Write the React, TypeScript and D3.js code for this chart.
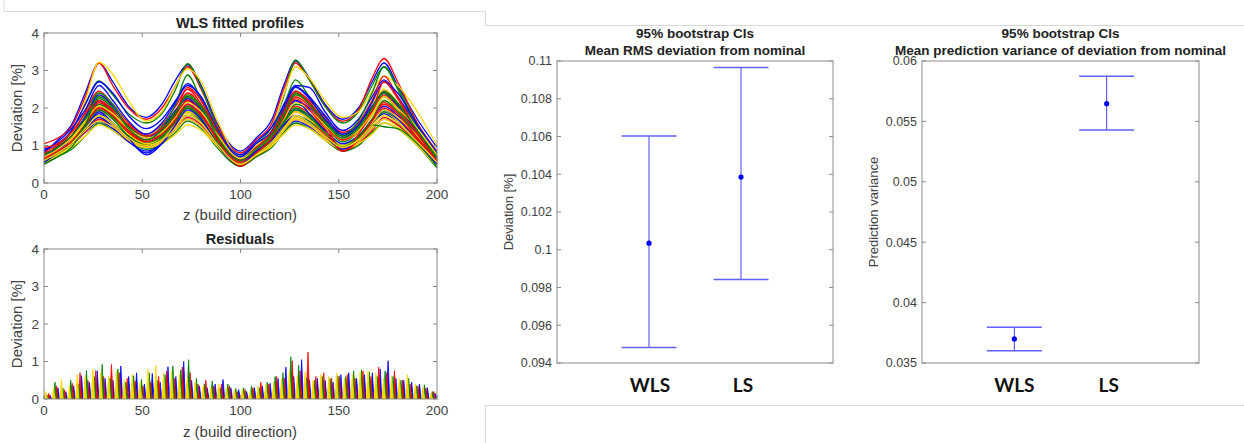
import React from "react";
import * as d3 from "d3";

// ---- fitted profiles (values at these z knots) ----
const zKnots = [0, 7, 14, 21, 28, 35, 43, 52, 60, 67, 73, 80, 88, 100, 108, 116, 122, 128, 135, 143, 152, 160, 167, 173, 180, 190, 200];

const profiles = [
  [0.80, 1.15, 1.55, 2.40, 3.20, 2.70, 2.05, 1.75, 2.10, 2.75, 3.15, 2.60, 1.60, 0.85, 1.20, 1.70, 2.60, 3.25, 2.80, 2.10, 1.70, 2.00, 2.70, 3.20, 2.60, 1.70, 0.95],
  [1.05, 1.20, 1.50, 2.30, 3.20, 2.60, 2.00, 1.70, 2.00, 2.60, 3.10, 2.50, 1.55, 0.80, 1.15, 1.60, 2.50, 3.20, 2.75, 2.05, 1.65, 1.95, 2.80, 3.32, 2.70, 1.60, 0.85],
  [0.70, 1.00, 1.35, 2.10, 2.72, 2.35, 1.85, 1.60, 1.85, 2.50, 3.18, 2.55, 1.50, 0.75, 1.05, 1.50, 2.30, 3.28, 2.75, 2.05, 1.60, 1.90, 2.60, 3.10, 2.55, 1.55, 0.80],
  [0.65, 0.95, 1.30, 2.20, 3.22, 2.90, 2.20, 1.65, 1.90, 2.60, 3.05, 2.70, 1.70, 0.70, 1.00, 1.45, 2.35, 3.10, 2.80, 2.20, 1.75, 1.90, 2.45, 2.85, 2.60, 1.90, 1.00],
  [0.90, 1.05, 1.40, 2.10, 2.70, 2.40, 1.80, 1.45, 1.70, 2.20, 2.65, 2.25, 1.40, 0.70, 1.05, 1.40, 2.10, 2.60, 2.55, 1.90, 1.40, 1.70, 2.30, 2.75, 2.30, 1.50, 0.75],
  [0.75, 0.95, 1.25, 1.90, 2.45, 2.10, 1.60, 1.30, 1.55, 2.05, 2.50, 2.10, 1.30, 0.65, 0.95, 1.30, 1.95, 2.45, 2.20, 1.75, 1.35, 1.60, 2.20, 2.85, 2.30, 1.40, 0.70],
  [0.55, 0.85, 1.20, 1.80, 2.40, 2.10, 1.55, 1.25, 1.50, 2.10, 2.88, 2.20, 1.35, 0.60, 0.95, 1.35, 2.05, 2.75, 2.30, 1.70, 1.30, 1.65, 2.40, 3.10, 2.50, 1.45, 0.65],
  [0.60, 0.85, 1.15, 1.75, 2.30, 2.05, 1.55, 1.25, 1.45, 1.95, 2.35, 2.00, 1.25, 0.55, 0.90, 1.25, 1.90, 2.35, 2.10, 1.65, 1.25, 1.55, 2.10, 2.50, 2.15, 1.45, 0.75],
  [0.65, 0.90, 1.20, 1.70, 2.20, 1.90, 1.40, 1.10, 1.35, 1.85, 2.30, 1.95, 1.20, 0.60, 0.90, 1.25, 1.85, 2.20, 2.00, 1.55, 1.20, 1.50, 2.00, 2.40, 2.05, 1.30, 0.60],
  [0.80, 0.95, 1.20, 1.65, 2.15, 1.85, 1.45, 1.15, 1.40, 1.90, 2.40, 2.05, 1.25, 0.55, 0.85, 1.20, 1.80, 2.40, 2.10, 1.60, 1.15, 1.40, 1.95, 2.45, 2.10, 1.35, 0.65],
  [0.50, 0.75, 1.05, 1.60, 2.10, 1.85, 1.40, 1.10, 1.30, 1.75, 2.20, 1.90, 1.20, 0.50, 0.80, 1.15, 1.70, 2.10, 1.95, 1.50, 1.10, 1.35, 1.85, 2.30, 1.95, 1.25, 0.55],
  [0.70, 0.90, 1.15, 1.60, 2.00, 1.80, 1.40, 1.15, 1.35, 1.70, 2.05, 1.85, 1.25, 0.60, 0.85, 1.20, 1.65, 2.00, 1.85, 1.50, 1.15, 1.35, 1.80, 2.20, 1.95, 1.40, 0.70],
  [0.60, 0.85, 1.10, 1.50, 1.85, 1.55, 1.15, 0.80, 1.10, 1.60, 2.10, 1.80, 1.10, 0.50, 0.80, 1.10, 1.60, 1.95, 1.80, 1.40, 1.00, 1.25, 1.70, 2.05, 1.80, 1.20, 0.55],
  [0.85, 1.00, 1.25, 1.65, 2.05, 1.75, 1.35, 1.05, 1.25, 1.65, 2.00, 1.75, 1.15, 0.50, 0.80, 1.15, 1.70, 2.05, 1.85, 1.40, 0.90, 1.20, 1.70, 2.10, 1.85, 1.20, 0.50],
  [0.60, 0.80, 1.05, 1.45, 1.80, 1.60, 1.25, 1.05, 1.20, 1.55, 1.90, 1.65, 1.10, 0.55, 0.80, 1.05, 1.50, 1.80, 1.65, 1.30, 0.95, 1.15, 1.55, 1.90, 1.65, 1.10, 0.50],
  [0.55, 0.80, 1.05, 1.40, 1.75, 1.55, 1.20, 1.00, 1.15, 1.50, 1.85, 1.60, 1.05, 0.50, 0.75, 1.05, 1.45, 1.75, 1.60, 1.25, 0.95, 1.15, 1.50, 1.85, 1.65, 1.15, 0.55],
  [0.75, 0.90, 1.10, 1.35, 1.65, 1.45, 1.15, 0.95, 1.10, 1.40, 1.70, 1.50, 1.00, 0.55, 0.80, 1.05, 1.40, 1.65, 1.50, 1.20, 0.90, 1.10, 1.45, 1.70, 1.55, 1.05, 0.50],
  [0.55, 0.75, 1.00, 1.35, 1.70, 1.50, 1.15, 0.95, 1.10, 1.45, 1.75, 1.55, 1.00, 0.45, 0.70, 1.00, 1.40, 1.70, 1.55, 1.20, 0.85, 1.05, 1.40, 1.75, 1.55, 1.05, 0.45],
  [0.50, 0.70, 0.90, 1.25, 1.60, 1.40, 1.10, 0.90, 1.05, 1.35, 1.65, 1.45, 0.95, 0.45, 0.70, 0.95, 1.35, 1.60, 1.45, 1.15, 0.85, 1.00, 1.35, 1.60, 1.45, 1.00, 0.40],
  [0.60, 0.75, 0.95, 1.25, 1.55, 1.40, 1.10, 0.95, 1.05, 1.30, 1.55, 1.40, 1.00, 0.50, 0.75, 1.00, 1.30, 1.55, 1.45, 1.15, 0.90, 1.05, 1.30, 1.60, 1.45, 1.00, 0.45],
  [0.65, 0.80, 1.00, 1.40, 1.75, 1.50, 1.10, 0.85, 1.05, 1.45, 1.80, 1.60, 1.05, 0.55, 0.80, 1.10, 1.55, 2.20, 1.85, 1.40, 1.05, 1.25, 1.60, 1.95, 1.70, 1.15, 0.60],
  [0.70, 0.85, 1.10, 1.55, 1.95, 1.70, 1.30, 1.00, 1.20, 1.60, 2.25, 1.90, 1.20, 0.60, 0.85, 1.15, 1.55, 1.90, 1.70, 1.30, 0.95, 1.20, 1.60, 2.00, 1.75, 1.15, 0.55],
  [0.65, 0.80, 1.05, 1.55, 2.00, 1.75, 1.30, 1.05, 1.25, 1.65, 2.05, 1.75, 1.15, 0.55, 0.85, 1.20, 1.65, 2.00, 1.80, 1.35, 1.00, 1.25, 1.70, 2.20, 1.90, 1.25, 0.60],
  [0.65, 0.85, 1.10, 1.50, 1.90, 1.70, 1.30, 1.05, 1.20, 1.55, 1.90, 1.70, 1.15, 0.55, 0.80, 1.10, 1.55, 1.90, 1.70, 1.35, 1.00, 1.20, 1.60, 1.95, 1.75, 1.25, 0.65],
  [0.70, 0.95, 1.25, 1.75, 2.35, 2.05, 1.50, 1.20, 1.45, 1.95, 2.25, 1.85, 1.20, 0.60, 0.90, 1.30, 1.95, 2.55, 2.25, 1.70, 1.25, 1.55, 2.05, 2.40, 2.05, 1.35, 0.70],
  [0.60, 0.80, 1.10, 1.55, 2.15, 1.90, 1.40, 1.15, 1.35, 1.80, 2.20, 1.85, 1.15, 0.55, 0.85, 1.20, 1.80, 2.30, 2.05, 1.55, 1.15, 1.40, 1.90, 2.35, 2.00, 1.30, 0.60],
  [0.75, 0.95, 1.25, 1.70, 2.25, 2.00, 1.50, 1.25, 1.45, 1.90, 2.30, 2.00, 1.30, 0.65, 0.95, 1.30, 1.85, 2.35, 2.15, 1.65, 1.25, 1.50, 2.00, 2.45, 2.15, 1.40, 0.70],
  [0.55, 0.75, 1.00, 1.40, 1.65, 1.50, 1.15, 0.95, 1.10, 1.40, 1.70, 1.50, 1.00, 0.50, 0.75, 1.00, 1.40, 1.70, 1.55, 1.20, 0.90, 1.10, 1.45, 1.70, 1.50, 1.05, 0.50],
  [0.85, 1.10, 1.45, 1.95, 2.60, 2.20, 1.65, 1.30, 1.60, 2.15, 2.60, 2.30, 1.45, 0.75, 1.10, 1.50, 2.05, 2.57, 2.30, 1.80, 1.30, 1.55, 2.15, 2.70, 2.40, 1.55, 0.80],
  [0.95, 1.05, 1.35, 1.85, 2.20, 1.95, 1.55, 1.25, 1.45, 1.85, 2.55, 2.20, 1.40, 0.60, 0.95, 1.35, 1.90, 2.45, 2.15, 1.60, 0.85, 1.30, 1.90, 2.70, 2.25, 1.35, 0.60],
  [0.50, 0.70, 0.95, 1.50, 1.95, 1.70, 1.25, 1.00, 1.20, 1.65, 2.00, 1.70, 1.10, 0.45, 0.80, 1.15, 1.60, 1.95, 1.75, 1.35, 0.95, 1.20, 1.55, 1.50, 1.45, 1.05, 0.45],
  [0.70, 0.90, 1.20, 1.65, 2.05, 1.85, 1.45, 1.20, 1.35, 1.75, 2.15, 1.90, 1.30, 0.65, 0.90, 1.25, 1.70, 2.15, 1.95, 1.55, 1.20, 1.40, 1.85, 2.30, 2.00, 1.45, 0.75],
  [0.55, 0.80, 1.05, 1.45, 1.90, 1.60, 1.20, 0.75, 1.05, 1.55, 1.95, 1.70, 1.05, 0.50, 0.85, 1.15, 1.55, 1.80, 1.60, 1.25, 0.90, 1.15, 1.55, 1.85, 1.60, 1.10, 0.50],
  [0.65, 0.85, 1.10, 1.55, 2.00, 1.80, 1.35, 1.10, 1.30, 1.70, 2.10, 1.80, 1.20, 0.45, 0.80, 1.20, 1.75, 2.25, 1.95, 1.45, 0.85, 1.15, 1.65, 2.15, 1.85, 1.20, 0.55],
  [0.60, 0.80, 1.05, 1.55, 2.30, 2.00, 1.45, 1.15, 1.40, 1.85, 2.35, 2.05, 1.25, 0.60, 0.90, 1.25, 1.80, 2.40, 2.10, 1.60, 1.20, 1.45, 2.00, 2.40, 2.10, 1.40, 0.65],
  [0.60, 0.80, 1.05, 1.45, 1.80, 1.60, 1.20, 1.00, 1.15, 1.45, 1.80, 1.60, 1.05, 0.50, 0.75, 1.05, 1.45, 1.80, 1.60, 1.25, 0.95, 1.15, 1.55, 1.80, 1.60, 1.10, 0.55],
];

const lineColors = ["#0000ff", "#ff0000", "#008000", "#ffd700"];

// ---- residual spikes ----
const residZ = [2, 6, 10, 14, 18, 22, 26, 30, 34, 38, 42, 46, 50, 54, 58, 62, 66, 70, 74, 78, 82, 86, 90, 94, 98, 102, 106, 110, 114, 118, 122, 126, 130, 134, 138, 142, 146, 150, 154, 158, 162, 166, 170, 174, 178, 182, 186, 190, 194, 198];
const residBlue = [0.10, 0.30, 0.20, 0.35, 0.62, 0.45, 0.75, 0.55, 0.50, 0.88, 0.60, 0.70, 0.40, 0.68, 0.45, 0.86, 0.60, 1.00, 0.50, 0.35, 0.30, 0.40, 0.52, 0.30, 0.25, 0.20, 0.30, 0.35, 0.42, 0.55, 0.85, 0.60, 1.05, 0.50, 0.55, 0.50, 0.45, 0.65, 0.70, 0.55, 0.65, 0.70, 0.80, 1.02, 0.55, 0.50, 0.45, 0.40, 0.30, 0.15];
const residRed = [0.15, 0.35, 0.25, 0.42, 0.70, 0.50, 0.76, 0.60, 0.92, 0.70, 0.55, 0.48, 0.35, 0.45, 0.60, 0.75, 0.55, 0.85, 0.70, 0.40, 0.50, 0.35, 0.40, 0.35, 0.20, 0.25, 0.30, 0.45, 0.40, 0.60, 0.55, 1.02, 0.75, 1.25, 0.60, 0.70, 0.55, 0.60, 0.65, 0.55, 0.75, 0.60, 0.85, 0.70, 0.75, 0.50, 0.40, 0.35, 0.30, 0.20];
const residGreen = [0.10, 0.45, 0.30, 0.50, 0.40, 0.76, 0.60, 0.92, 0.55, 0.80, 0.45, 0.62, 0.52, 0.70, 0.50, 0.65, 0.88, 0.78, 1.05, 0.55, 0.40, 0.48, 0.30, 0.40, 0.28, 0.30, 0.35, 0.30, 0.45, 0.60, 0.70, 1.13, 0.90, 0.55, 0.50, 0.60, 0.55, 0.62, 0.60, 0.75, 0.78, 0.72, 0.60, 0.75, 0.60, 0.50, 0.55, 0.35, 0.38, 0.20];
const residYellow = [0.20, 0.30, 0.52, 0.35, 0.65, 0.60, 0.80, 0.70, 0.60, 0.75, 0.50, 0.65, 0.45, 0.80, 0.90, 0.70, 0.75, 0.65, 0.55, 0.45, 0.35, 0.30, 0.40, 0.30, 0.25, 0.28, 0.20, 0.35, 0.40, 0.45, 0.55, 0.75, 0.60, 0.72, 0.50, 0.65, 0.60, 0.70, 0.55, 0.65, 0.72, 0.75, 0.70, 0.55, 0.60, 0.55, 0.65, 0.40, 0.30, 0.15];

// ---- bootstrap CIs ----
const methods = ["WLS", "LS"];
const rmsMean = [0.10035, 0.10385];
const rmsLow = [0.09482, 0.09842];
const rmsHigh = [0.10603, 0.10965];
const rmsTicks = [0.094, 0.096, 0.098, 0.1, 0.102, 0.104, 0.106, 0.108, 0.11];
const varMean = [0.03699, 0.05647];
const varLow = [0.03602, 0.05429];
const varHigh = [0.03796, 0.05873];
const varTicks = [0.035, 0.04, 0.045, 0.05, 0.055, 0.06];
const zTicks = [0, 50, 100, 150, 200];
const devTicks = [0, 1, 2, 3, 4];

const FONT = "'Liberation Sans', Arial, sans-serif";
const TXT = "#404040";
const FRAME = "#8a8a8a";

function Box({ x, y, ticksX, ticksY, tickLen = 4, xFmt, yFmt, fs }: any) {
  const [x0, x1] = x.range();
  const [y0, y1] = y.range(); // y0 bottom
  return (
    <g>
      {ticksX.map((t: number) => (
        <g key={"x" + t}>
          <line x1={x(t)} x2={x(t)} y1={y0} y2={y0 - tickLen} stroke={FRAME} />
          <line x1={x(t)} x2={x(t)} y1={y1} y2={y1 + tickLen} stroke={FRAME} />
          {xFmt && (
            <text x={x(t)} y={y0 + fs + 2} textAnchor="middle" fontSize={fs} fill={TXT} fontFamily={FONT}>{xFmt(t)}</text>
          )}
        </g>
      ))}
      {ticksY.map((t: number) => (
        <g key={"y" + t}>
          <line x1={x0} x2={x0 + tickLen} y1={y(t)} y2={y(t)} stroke={FRAME} />
          <line x1={x1} x2={x1 - tickLen} y1={y(t)} y2={y(t)} stroke={FRAME} />
          <text x={x0 - 5} y={y(t)} dy="0.35em" textAnchor="end" fontSize={fs} fill={TXT} fontFamily={FONT}>{yFmt(t)}</text>
        </g>
      ))}
      <rect x={x0} y={y1} width={x1 - x0} height={y0 - y1} fill="none" stroke={FRAME} />
    </g>
  );
}

function ProfilePanel() {
  const x = d3.scaleLinear().domain([0, 200]).range([44, 437]);
  const y = d3.scaleLinear().domain([0, 4]).range([183, 33]);
  const line = d3.line<number>().x((_, i) => x(zKnots[i])).y((d) => y(d)).curve(d3.curveMonotoneX);
  return (
    <g>
      <rect x={44} y={33} width={393} height={150} fill="#fff" />
      {profiles.map((p, i) => (
        <path key={i} d={line(p) || ""} fill="none" stroke={lineColors[i % 4]} strokeWidth={1.3} />
      ))}
      <Box x={x} y={y} ticksX={zTicks} ticksY={devTicks} xFmt={String} yFmt={String} fs={13.5} />
      <text x={240} y={28} textAnchor="middle" fontSize={14.5} fontWeight="bold" fill="#222" fontFamily={FONT}>WLS fitted profiles</text>
      <text x={240} y={220} textAnchor="middle" fontSize={15} fill={TXT} fontFamily={FONT}>z (build direction)</text>
      <text transform="translate(22,108) rotate(-90)" textAnchor="middle" fontSize={15} fill={TXT} fontFamily={FONT}>Deviation [%]</text>
    </g>
  );
}

function ResidualPanel() {
  const x = d3.scaleLinear().domain([0, 200]).range([44, 437]);
  const y = d3.scaleLinear().domain([0, 4]).range([399, 249]);
  const series = [
    { vals: residBlue, color: lineColors[0], dz: 1.1 },
    { vals: residRed, color: lineColors[1], dz: 0.35 },
    { vals: residGreen, color: lineColors[2], dz: -0.4 },
    { vals: residYellow, color: lineColors[3], dz: -1.1 },
  ];
  const hw = 0.85;
  return (
    <g>
      <defs>
        <clipPath id="resClip"><rect x={44} y={249} width={393} height={150} /></clipPath>
      </defs>
      <g clipPath="url(#resClip)">
        {series.map((s, si) => (
          <g key={si}>
            {s.vals.map((v, i) => {
              const zc = residZ[i] + s.dz;
              const d = `M${x(zc - hw)},${y(0)}L${x(zc)},${y(v)}L${x(zc + hw)},${y(0)}Z`;
              return <path key={i} d={d} fill={s.color} stroke={s.color} strokeWidth={0.8} strokeLinejoin="round" />;
            })}
          </g>
        ))}
      </g>
      <Box x={x} y={y} ticksX={zTicks} ticksY={devTicks} xFmt={String} yFmt={String} fs={13.5} />
      <text x={240} y={244} textAnchor="middle" fontSize={14.5} fontWeight="bold" fill="#222" fontFamily={FONT}>Residuals</text>
      <text x={240} y={437} textAnchor="middle" fontSize={15} fill={TXT} fontFamily={FONT}>z (build direction)</text>
      <text transform="translate(22,324) rotate(-90)" textAnchor="middle" fontSize={15} fill={TXT} fontFamily={FONT}>Deviation [%]</text>
    </g>
  );
}

function CIPanel({ left, right, domain, ticks, mean, low, high, title2, ylabel, ylabelX, labelDx }: any) {
  const x = d3.scaleLinear().domain([0, 3]).range([left, right]);
  const y = d3.scaleLinear().domain(domain).range([363, 61]);
  const cx = (left + right) / 2;
  const cap = 27.5;
  return (
    <g>
      <Box x={x} y={y} ticksX={[]} ticksY={ticks} yFmt={String} fs={12.5} />
      {methods.map((m, i) => (
        <g key={m}>
          <line x1={x(i + 1)} x2={x(i + 1)} y1={y(low[i])} y2={y(high[i])} stroke="#4040ff" strokeWidth={1} />
          <line x1={x(i + 1) - cap} x2={x(i + 1) + cap} y1={y(high[i])} y2={y(high[i])} stroke="#6060ff" strokeWidth={1.5} />
          <line x1={x(i + 1) - cap} x2={x(i + 1) + cap} y1={y(low[i])} y2={y(low[i])} stroke="#6060ff" strokeWidth={1.5} />
          <circle cx={x(i + 1)} cy={y(mean[i])} r={2.6} fill="#0000ff" />
          <text x={x(i + 1) + labelDx[i]} y={392} textAnchor="middle" fontSize={19} fontWeight="bold" fill="#111" fontFamily="Lato, 'Open Sans', sans-serif">{m}</text>
        </g>
      ))}
      <text x={cx} y={38} textAnchor="middle" fontSize={13.5} fontWeight="bold" fill="#222" fontFamily={FONT}>95% bootstrap CIs</text>
      <text x={cx} y={55} textAnchor="middle" fontSize={13.5} fontWeight="bold" fill="#222" fontFamily={FONT}>{title2}</text>
      <text transform={`translate(${ylabelX},212) rotate(-90)`} textAnchor="middle" fontSize={13} fill={TXT} fontFamily={FONT}>{ylabel}</text>
    </g>
  );
}

export default function App() {
  const sep = "#d9d9d9";
  return (
    <svg width={1244} height={443} style={{ position: "absolute", left: 0, top: 0, background: "#fff" }}>
      <rect width={1244} height={443} fill="#fff" />
      <path d="M4,0V11.5H485.5V25.5H1244" fill="none" stroke={sep} />
      <path d="M1244,405.5H485.5V443" fill="none" stroke={sep} />
      <ProfilePanel />
      <ResidualPanel />
      <CIPanel left={557} right={833} domain={[0.094, 0.11]} ticks={rmsTicks} mean={rmsMean} low={rmsLow} high={rmsHigh}
        title2="Mean RMS deviation from nominal" ylabel="Deviation [%]" ylabelX={513} labelDx={[1, 2]} />
      <CIPanel left={922} right={1199} domain={[0.035, 0.06]} ticks={varTicks} mean={varMean} low={varLow} high={varHigh}
        title2="Mean prediction variance of deviation from nominal" ylabel="Prediction variance" ylabelX={878} labelDx={[0, 2]} />
    </svg>
  );
}
